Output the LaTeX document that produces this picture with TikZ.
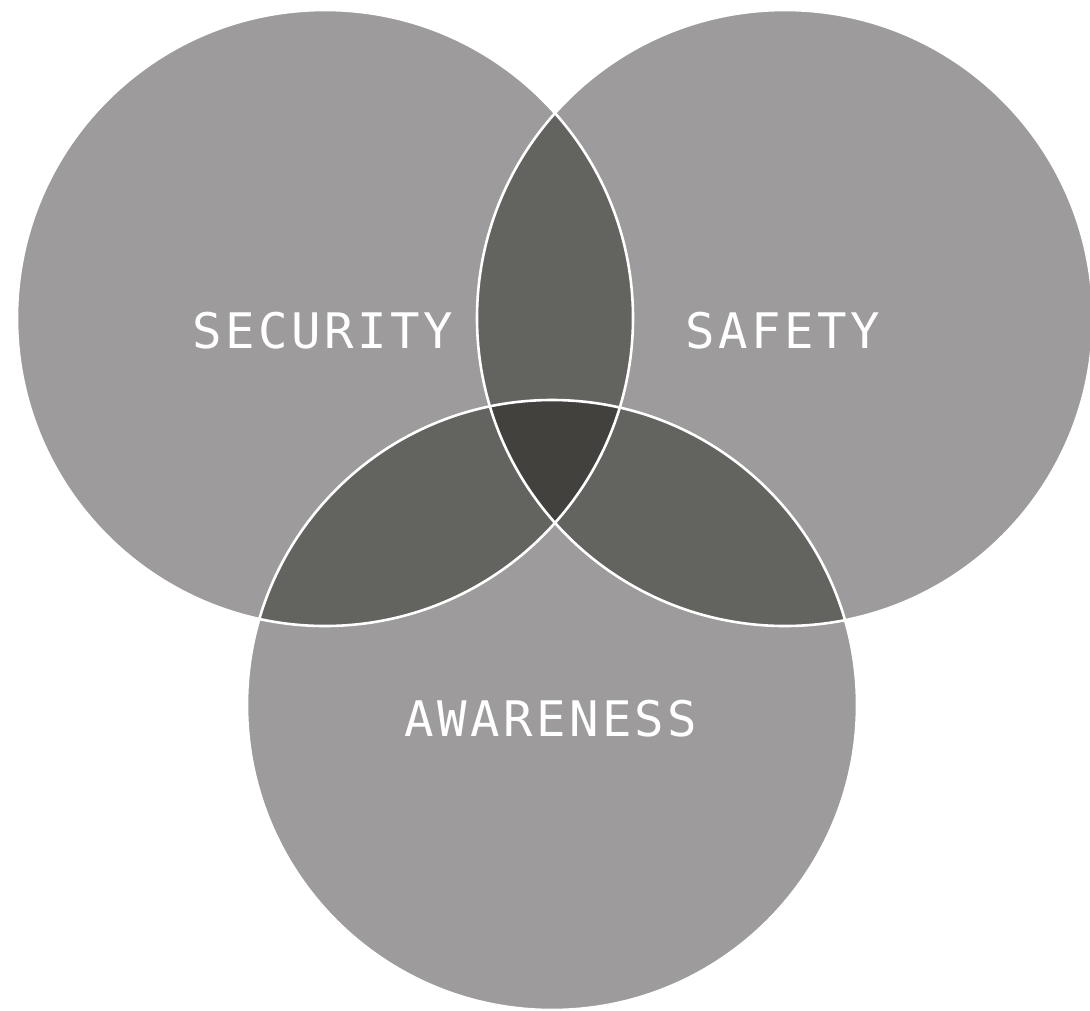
\documentclass[tikz,border=0pt]{standalone}
\usepackage{fontspec}
\newfontfamily\lblfont[LetterSpace=7]{DejaVu Sans Mono}
\definecolor{base}{RGB}{157,155,155}
\definecolor{pair}{RGB}{99,99,95}
\definecolor{triple}{RGB}{66,65,62}
\begin{document}
\begin{tikzpicture}[x=1pt,y=-1pt,
  lbl/.style={text=white,font=\lblfont\fontsize{49}{50}\selectfont,inner sep=0pt},
  rim/.style={draw=white,line width=2.6pt}]
\useasboundingbox (0,0) rectangle (1090,1010);
\coordinate (L) at (325,318);
\coordinate (R) at (785,318);
\coordinate (B) at (552,705);
\def\rL{308}\def\rR{308}\def\rB{305}
% base discs
\fill[base] (L) circle[radius=\rL];
\fill[base] (R) circle[radius=\rR];
\fill[base] (B) circle[radius=\rB];
% pairwise lenses
\begin{scope}\clip (L) circle[radius=\rL]; \fill[pair] (R) circle[radius=\rR]; \fill[pair] (B) circle[radius=\rB];\end{scope}
\begin{scope}\clip (R) circle[radius=\rR]; \fill[pair] (B) circle[radius=\rB];\end{scope}
% triple region
\begin{scope}\clip (L) circle[radius=\rL]; \clip (R) circle[radius=\rR]; \fill[triple] (B) circle[radius=\rB];\end{scope}
% white outlines
\draw[rim] (L) circle[radius=\rL];
\draw[rim] (R) circle[radius=\rR];
\draw[rim] (B) circle[radius=\rB];
% labels
\node[lbl] (sec) at (323,331) {SECURITY};
\node[lbl] (saf) at (783,331) {SAFETY};
\node[lbl] (awa) at (551,719) {AWARENESS};
\end{tikzpicture}
\end{document}
